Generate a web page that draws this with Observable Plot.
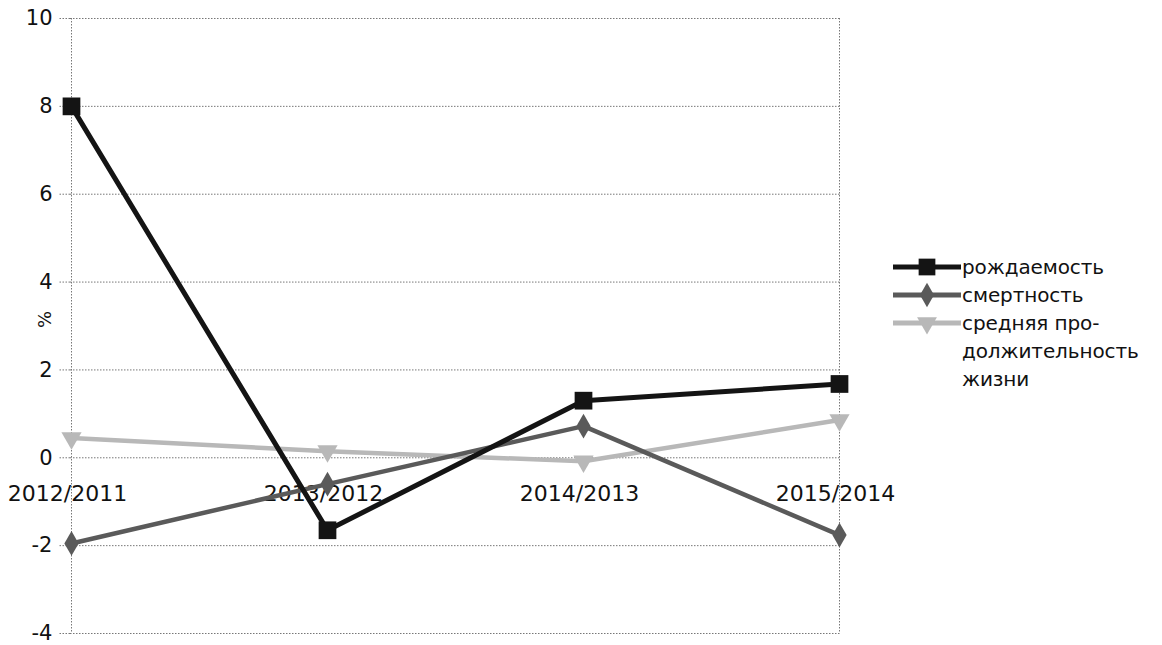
<!DOCTYPE html>
<html>
<head>
<meta charset="utf-8">
<script src="https://cdn.jsdelivr.net/npm/d3@7"></script>
<script src="https://cdn.jsdelivr.net/npm/@observablehq/plot@0.6"></script>
<style>
  html, body { margin: 0; padding: 0; background: #fff; }
  #wrap { position: relative; width: 1162px; height: 645px; font-family: "DejaVu Sans", sans-serif; }
  #legend { position: absolute; left: 893px; top: 253px; font-size: 20px; color: #111; line-height: 28px; }
  .row { display: flex; align-items: flex-start; }
  .row svg { flex: none; }
  .lbl { margin-left: 1px; letter-spacing: -0.1px; }
</style>
</head>
<body>
<div id="wrap"></div>
<script>
const categories = ["2012/2011", "2013/2012", "2014/2013", "2015/2014"];
const seriesNames = ["рождаемость", "смертность", "средняя продолжительность жизни"];
const birth = [8.0, -1.65, 1.3, 1.68];
const death = [-1.95, -0.6, 0.72, -1.76];
const life = [0.45, 0.15, -0.08, 0.86];
const yTicks = [-4, -2, 0, 2, 4, 6, 8, 10];

const colors = ["#141414", "#5a5a5a", "#b8b8b8"];
const symbols = ["square", "diamond", "triangle"];

const series = [birth, death, life];
const rows = [];
series.forEach((vals, s) => vals.forEach((v, i) => rows.push({series: seriesNames[s], cat: categories[i], value: v, s})));

const gridStyle = {stroke: "#777", strokeOpacity: 1, strokeWidth: 1, strokeDasharray: "1.5,1.5"};
const font = "DejaVu Sans, sans-serif";

const plot = Plot.plot({
  width: 1162,
  height: 645,
  marginLeft: 70,
  marginRight: 322,
  marginTop: 18,
  marginBottom: 12,
  style: {fontFamily: font, fontSize: "21px", color: "#111", background: "#fff", overflow: "visible"},
  x: {type: "point", domain: categories, padding: 0, axis: null},
  y: {domain: [-4, 10], ticks: yTicks, axis: null},
  marks: [
    Plot.gridY(yTicks, gridStyle),
    Plot.axisY({ticks: yTicks, tickSize: 12, tickPadding: 6, ...gridStyle, fill: "#111", fontSize: 21, label: null, tickFormat: d => String(d)}),
    Plot.text(["%"], {frameAnchor: "left", dx: -25, dy: 2, rotate: -90, fontSize: 18, fill: "#111", text: d => d}),
    Plot.ruleX([categories[0], categories[categories.length - 1]], gridStyle),
    Plot.text(categories, {x: d => d, y: () => 0, dy: 36, dx: -4, text: d => d, fill: "#111", fontSize: 22, letterSpacing: "-0.3px"}),
    ...[2, 1, 0].map(s => Plot.line(rows.filter(r => r.s === s), {x: "cat", y: "value", stroke: colors[s], strokeWidth: s === 0 ? 5 : 4.5})),
    Plot.dot(rows.filter(r => r.s === 2), {x: "cat", y: "value", symbol: "triangle", rotate: 180, r: 7.5, fill: colors[2], stroke: "none"}),
    Plot.dot(rows.filter(r => r.s === 1), {x: "cat", y: "value", symbol: "diamond", r: 7.5, fill: colors[1], stroke: "none"}),
    Plot.dot(rows.filter(r => r.s === 0), {x: "cat", y: "value", symbol: "square", r: 10, fill: colors[0], stroke: "none"})
  ]
});

const wrap = document.getElementById("wrap");
wrap.appendChild(plot);

// legend
const legend = document.createElement("div");
legend.id = "legend";
const legendLabels = [["рождаемость"], ["смертность"], ["средняя про-", "должительность", "жизни"]];
legendLabels.forEach((lines, s) => {
  const row = document.createElement("div");
  row.className = "row";
  const ns = "http://www.w3.org/2000/svg";
  const sv = document.createElementNS(ns, "svg");
  sv.setAttribute("width", 68); sv.setAttribute("height", 28);
  const ln = document.createElementNS(ns, "line");
  ln.setAttribute("x1", 0); ln.setAttribute("x2", 68); ln.setAttribute("y1", 14); ln.setAttribute("y2", 14);
  ln.setAttribute("stroke", colors[s]); ln.setAttribute("stroke-width", 5);
  sv.appendChild(ln);
  const sym = {square: d3.symbolSquare, diamond: d3.symbolDiamond, triangle: d3.symbolTriangle}[symbols[s]];
  const size = s === 0 ? 280 : 170;
  const p = document.createElementNS(ns, "path");
  p.setAttribute("d", d3.symbol(sym, size)());
  p.setAttribute("transform", `translate(34,14)` + (s === 2 ? " rotate(180)" : ""));
  p.setAttribute("fill", colors[s]);
  sv.appendChild(p);
  row.appendChild(sv);
  const lbl = document.createElement("div");
  lbl.className = "lbl";
  lbl.innerHTML = lines.join("<br>");
  row.appendChild(lbl);
  legend.appendChild(row);
});
wrap.appendChild(legend);
</script>
</body>
</html>
